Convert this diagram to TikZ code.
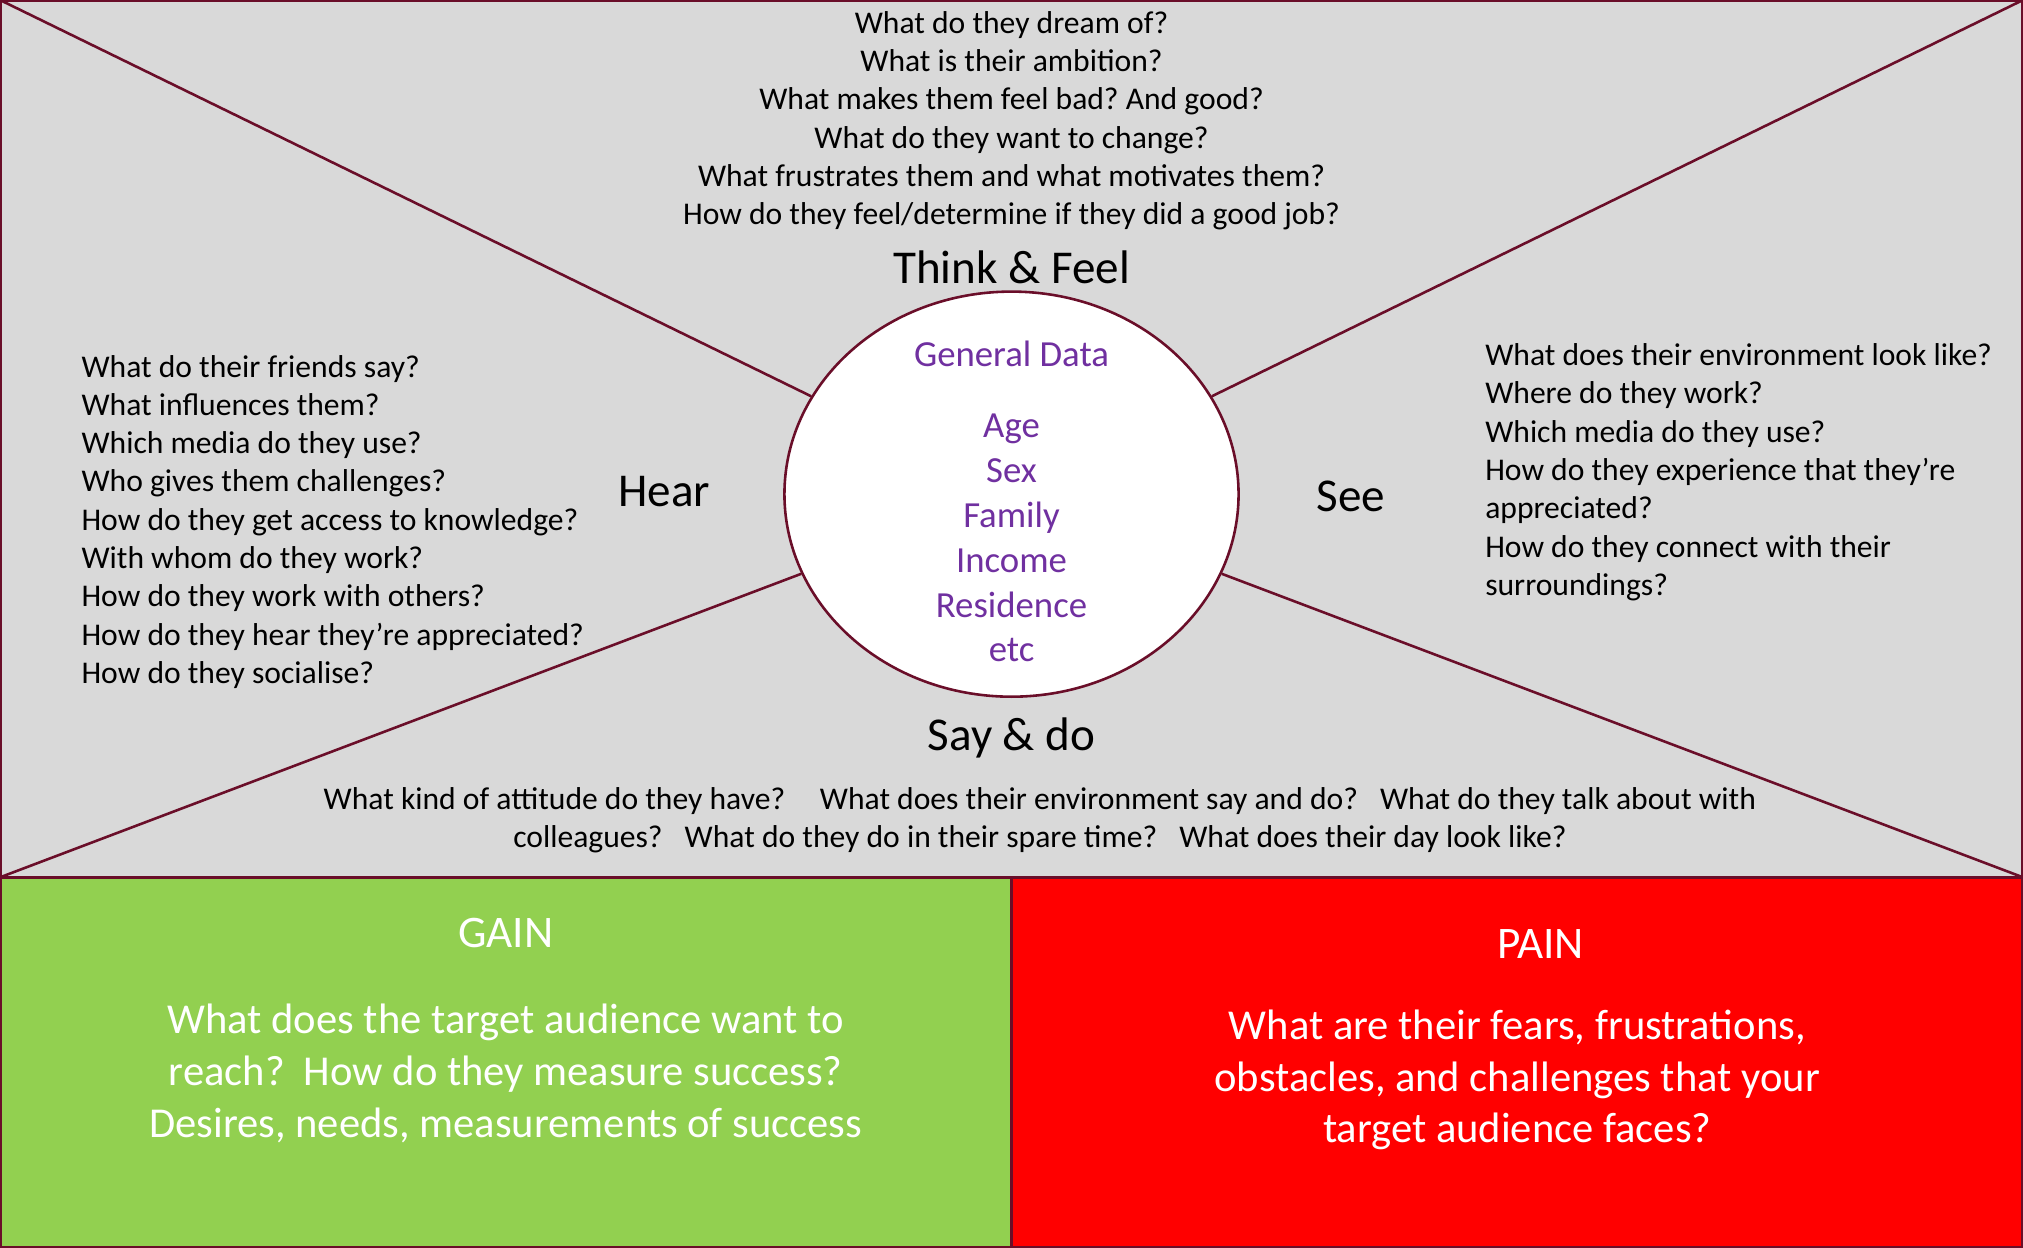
\documentclass[tikz,border=0pt]{standalone}
\usepackage{fontspec}
\setmainfont{Carlito}
\usetikzlibrary{shapes.geometric}
\definecolor{maroon}{HTML}{6A0E29}
\definecolor{mapgray}{HTML}{D9D9D9}
\definecolor{gaingreen}{HTML}{92D050}
\definecolor{painred}{HTML}{FF0000}
\definecolor{datapurple}{HTML}{7030A0}
\frenchspacing

\begin{document}
\begin{tikzpicture}[x=1pt,y=-1pt]
\tikzstyle{every node}+=[inner sep=0pt]
\tikzstyle{question}=[font=\fontsize{24.5}{29.7}\selectfont]
\tikzstyle{heading}=[font=\fontsize{36.5}{44}\selectfont]
\tikzstyle{datatext}=[text=datapurple, align=center, font=\fontsize{28.5}{34.8}\selectfont]
\tikzstyle{boxtext}=[text=white, align=center, font=\fontsize{33}{40}\selectfont]
\useasboundingbox (0,0) rectangle (1568,967);
% panels
\fill [mapgray] (0,0) rectangle (1568,680);
\fill [gaingreen] (0,680) rectangle (784,967);
\fill [painred] (784,680) rectangle (1568,967);
\coordinate (tl) at (0,0);
\coordinate (tr) at (1568,0);
\coordinate (ml) at (0,680);
\coordinate (mr) at (1568,680);
\coordinate (mm) at (784,680);
\coordinate (bm) at (784,967);
\node (data) at (784,383) [ellipse, draw=maroon, fill=white, line width=2pt, minimum width=352pt, minimum height=314pt] {};
\draw [maroon, line width=2pt] (tl) -- (data);
\draw [maroon, line width=2pt] (tr) -- (data);
\draw [maroon, line width=2pt] (ml) -- (data);
\draw [maroon, line width=2pt] (mr) -- (data);
\draw [maroon, line width=2.5pt] (ml) -- (mr);
\draw [maroon, line width=2pt] (mm) -- (bm);
\draw [maroon, line width=3pt] (0,0) rectangle (1568,967);
% centre
\node (gdtitle) at (784,274) [datatext] {General Data};
\node (gdlist) at (784,417) [datatext] {Age\\Sex\\Family\\Income\\Residence\\etc};
% headings
\node (think) at (784,207) [heading] {Think \& Feel};
\node (hear) at (515,381) [heading] {Hear};
\node (see) at (1047,385) [heading] {See};
\node (saydo) at (784,572) [heading] {Say \& do};
% questions
\node (thinkq) at (784,93.5) [question, align=center] {What do they dream of?\\What is their ambition?\\What makes them feel bad? And good?\\What do they want to change?\\What frustrates them and what motivates them?\\How do they feel/determine if they did a good job?};
\node (hearq) at (63,404.5) [question, align=left, anchor=west] {What do their friends say?\\What influences them?\\Which media do they use?\\Who gives them challenges?\\How do they get access to knowledge?\\With whom do they work?\\How do they work with others?\\How do they hear they’re appreciated?\\How do they socialise?};
\node (seeq) at (1151,366) [question, align=left, anchor=west] {What does their environment look like?\\Where do they work?\\Which media do they use?\\How do they experience that they’re\\appreciated?\\How do they connect with their\\surroundings?};
\node (sayq) at (806,636) [question, align=center] {What kind of attitude do they have?\hspace{1.1em}What does their environment say and do?\hspace{0.7em}What do they talk about with\\colleagues?\hspace{0.7em}What do they do in their spare time?\hspace{0.7em}What does their day look like?};
% gain and pain
\node (gain) at (392,723) [boxtext, font=\fontsize{35}{42}\selectfont] {GAIN};
\node (gainq) at (392,832) [boxtext] {What does the target audience want to\\reach?\hspace{0.45em}How do they measure success?\\Desires, needs, measurements of success};
\node (pain) at (1194,732) [boxtext, font=\fontsize{35}{42}\selectfont] {PAIN};
\node (painq) at (1176,837) [boxtext] {What are their fears, frustrations,\\obstacles, and challenges that your\\target audience faces?};
\end{tikzpicture}
\end{document}
